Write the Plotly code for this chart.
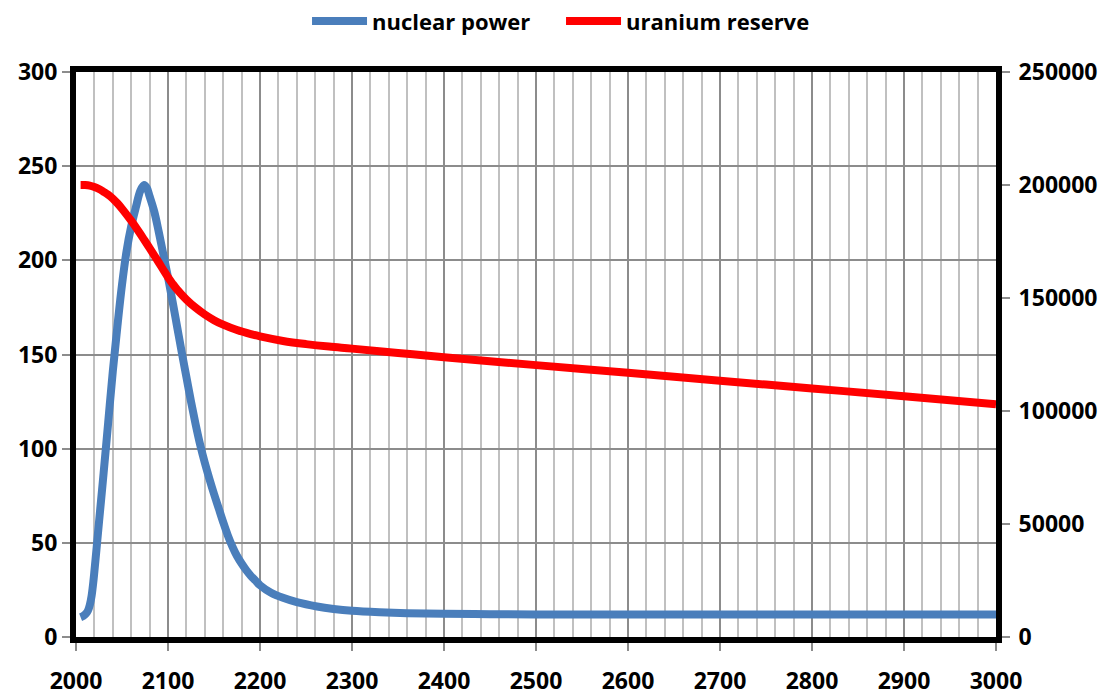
import plotly.graph_objects as go

# nuclear power (left axis)
nuclear_years = [2005, 2008, 2011, 2013, 2015, 2017, 2019, 2021, 2023, 2025, 2030, 2035, 2040,
                 2045, 2050, 2055, 2060, 2065, 2070, 2074, 2077, 2080, 2085, 2090, 2095, 2100,
                 2105, 2110, 2115, 2120, 2125, 2130, 2135, 2140, 2145, 2150, 2155, 2160, 2165,
                 2170, 2175, 2180, 2185, 2190, 2195, 2200, 2212, 2225, 2240, 2262, 2280, 2300,
                 2330, 2360, 2400, 2450, 2500, 2600, 2700, 2800, 2900, 3000]
nuclear_power = [10.5, 11.2, 12.5, 14, 17, 22, 30, 40, 50.5, 61, 87, 114, 141,
                 165, 187, 205, 218, 228, 237, 240, 238.5, 234, 226, 215, 203, 191,
                 178, 164.5, 151, 138, 125, 113, 102, 92.5, 84, 76, 68.5, 61, 54,
                 48, 43, 39, 35.5, 32.5, 30, 27.5, 23.5, 20.8, 18.5, 16.2, 14.9, 13.9,
                 13.1, 12.6, 12.3, 12.1, 12, 12, 12, 12, 12, 12]

# uranium reserve (right axis)
reserve_years = [2005, 2010, 2015, 2020, 2025, 2030, 2035, 2040, 2045, 2050, 2055, 2060, 2065,
                 2070, 2075, 2080, 2085, 2090, 2095, 2100, 2105, 2110, 2120, 2130, 2140, 2150,
                 2160, 2175, 2190, 2200, 2225, 2250, 2275, 2300, 2350, 2400, 2500, 2600, 2700,
                 2800, 2900, 3000]
uranium_reserve = [200000, 199950, 199700, 199100, 198200, 197000, 195700, 194000, 191900,
                   189500, 186900, 184200, 181300, 178300, 175200, 172100, 168900, 165700,
                   162400, 159200, 156300, 153700, 149300, 145700, 142700, 140200, 138200,
                   135800, 134000, 133000, 131000, 129600, 128500, 127600, 125700, 123800,
                   120300, 116900, 113400, 110000, 106500, 103000]

x_ticks = list(range(2000, 3001, 100))
y_ticks = [0, 50, 100, 150, 200, 250, 300]
y2_ticks = [0, 50000, 100000, 150000, 200000, 250000]

FONT = "Open Sans"
tick_font = dict(family=FONT, size=23, color="black", weight="bold")

fig = go.Figure()
fig.add_trace(go.Scatter(x=nuclear_years, y=nuclear_power, name="nuclear power",
                         mode="lines", line=dict(color="#4A7EBB", width=8, shape="spline", smoothing=1.0)))
fig.add_trace(go.Scatter(x=reserve_years, y=uranium_reserve, name="uranium reserve",
                         mode="lines", yaxis="y2",
                         line=dict(color="#FF0000", width=8, shape="spline", smoothing=1.0)))

# the page body adds an 8px offset, so margins are shifted to compensate
fig.update_layout(
    width=1110, height=694,
    margin=dict(l=68, r=122, t=64, b=65, autoexpand=False),
    paper_bgcolor="white", plot_bgcolor="white",
    showlegend=True,
    legend=dict(orientation="h", x=0.5272, xanchor="center", xref="paper",
                y=1.0900, yanchor="middle", yref="paper",
                font=dict(family=FONT, size=22, color="black", weight="bold"),
                itemwidth=55, entrywidth=184, bgcolor="rgba(0,0,0,0)", traceorder="normal"),
    xaxis=dict(range=[2000, 3000], tickvals=x_ticks, ticktext=[str(v) for v in x_ticks],
               showgrid=True, gridcolor="#8C8C8C", gridwidth=2,
               minor=dict(dtick=20, showgrid=True, gridcolor="#C0C0C0", gridwidth=2),
               showline=True, linecolor="black", linewidth=6, mirror=True,
               ticks="outside", ticklen=8, tickcolor="#8C8C8C", tickwidth=2,
               tickfont=tick_font, ticklabelstandoff=10, zeroline=False, automargin=False),
    yaxis=dict(range=[0, 300], tickvals=y_ticks,
               showgrid=True, gridcolor="#8C8C8C", gridwidth=2,
               showline=True, linecolor="black", linewidth=6,
               ticks="outside", ticklen=8, tickcolor="#8C8C8C", tickwidth=2,
               tickfont=tick_font, ticklabelstandoff=0, zeroline=False, automargin=False),
    yaxis2=dict(range=[0, 250000], tickvals=y2_ticks, ticktext=[str(v) for v in y2_ticks],
                overlaying="y", side="right",
                showgrid=False, showline=True, linecolor="black", linewidth=6,
                ticks="outside", ticklen=8, tickcolor="#8C8C8C", tickwidth=2,
                tickfont=tick_font, ticklabelstandoff=4, zeroline=False, automargin=False),
)

fig.write_html("out.html")
